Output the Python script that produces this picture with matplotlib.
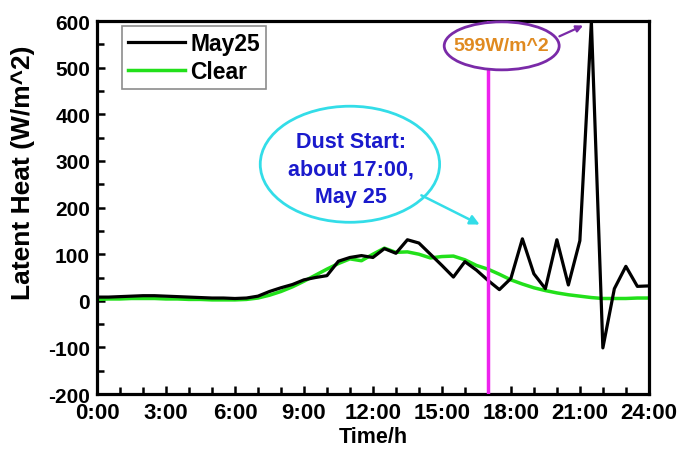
import numpy as np
import matplotlib.pyplot as plt
from matplotlib.patches import Ellipse
from matplotlib.ticker import MultipleLocator, FixedLocator

plt.rcParams['font.family'] = ['Liberation Sans', 'DejaVu Sans']
plt.rcParams['font.weight'] = 'bold'
plt.rcParams['axes.unicode_minus'] = False

# half-hourly time axis, 0:00 .. 24:00
hours = np.arange(0, 24.01, 0.5)

may25 = [8, 8, 9, 10, 11, 11, 10, 9, 8, 7, 6, 6, 5, 6, 10, 20, 28, 35, 45, 50,
         54, 85, 93, 97, 93, 112, 102, 131, 124, 100, 76, 51, 84, 66, 44, 24,
         48, 133, 58, 26, 131, 34, 129, 599, -101, 26, 74, 31, 32]
clear = [3, 4, 4, 5, 5, 5, 4, 4, 3, 3, 2, 2, 2, 3, 6, 12, 20, 30, 42, 55,
         68, 80, 90, 86, 100, 113, 104, 105, 100, 92, 95, 96, 88, 76, 68, 57,
         45, 36, 28, 22, 17, 13, 10, 7, 5, 5, 5, 6, 6]

dust_start = 17
xticks = [0, 3, 6, 9, 12, 15, 18, 21, 24]
xticklabels = ["0:00", "3:00", "6:00", "9:00", "12:00", "15:00", "18:00", "21:00", "24:00"]

fig = plt.figure(figsize=(6.83, 4.52), dpi=100)
ax = fig.add_axes([0.142, 0.126, 0.808, 0.825])

ax.plot(hours, may25, color='black', lw=2.3, label='May25', zorder=3)
ax.plot(hours, clear, color='#22e01a', lw=2.5, label='Clear', zorder=2)
ax.axvline(dust_start, color='#ee22ee', lw=2.5, zorder=4)

ax.set_xlim(0, 24)
ax.set_ylim(-200, 600)
ax.xaxis.set_major_locator(FixedLocator(xticks))
ax.set_xticklabels(xticklabels)
ax.xaxis.set_minor_locator(MultipleLocator(1))
ax.yaxis.set_major_locator(MultipleLocator(100))
ax.yaxis.set_minor_locator(MultipleLocator(50))
ax.tick_params(which='both', direction='in', top=False, right=False, width=1.8)
ax.tick_params(which='major', length=6)
ax.tick_params(which='minor', length=5)
ax.tick_params(axis='x', labelsize=16, pad=6)
ax.tick_params(axis='y', labelsize=15, pad=5)
for s in ax.spines.values():
    s.set_linewidth(2.3)

ax.set_xlabel('Time/h', fontsize=15.5, fontweight='bold', labelpad=2)
ax.set_ylabel('Latent Heat (W/m^2)', fontsize=19, fontweight='bold')
ax.yaxis.set_label_coords(-0.112, 0.595)

leg = ax.legend(loc='upper left', fontsize=16.5, frameon=True, fancybox=False,
                handlelength=2.5, handletextpad=0.25, borderpad=0.25,
                labelspacing=0.25, borderaxespad=0,
                bbox_to_anchor=(0.045, 0.987))
leg.get_frame().set_edgecolor('#707070')
leg.get_frame().set_linewidth(1.2)

# dust start callout
ax.add_patch(Ellipse((11.0, 293), 7.8, 249, fill=False, edgecolor='#33dde8', lw=2, zorder=5))
ax.text(11.04, 283, 'Dust Start:\nabout 17:00,\nMay 25', color='#1a1acc', fontsize=15.5,
        fontweight='bold', ha='center', va='center', multialignment='center',
        linespacing=1.4, zorder=6)
ax.annotate('', xy=(16.75, 161), xytext=(14.0, 229),
            arrowprops=dict(arrowstyle='-|>', color='#33dde8', lw=1.8, mutation_scale=14))

# peak callout
ax.add_patch(Ellipse((17.6, 547), 5.0, 103, facecolor='white', edgecolor='#7a2aa8', lw=2,
                     zorder=5, clip_on=False))
ax.text(17.6, 547, '599W/m^2', color='#e08a20', fontsize=14, fontweight='bold',
        ha='center', va='center', zorder=6)
ax.annotate('', xy=(21.25, 593), xytext=(20.0, 565),
            arrowprops=dict(arrowstyle='-|>', color='#7a2aa8', lw=1.6, mutation_scale=10))

fig.savefig('out.png', dpi=100)
